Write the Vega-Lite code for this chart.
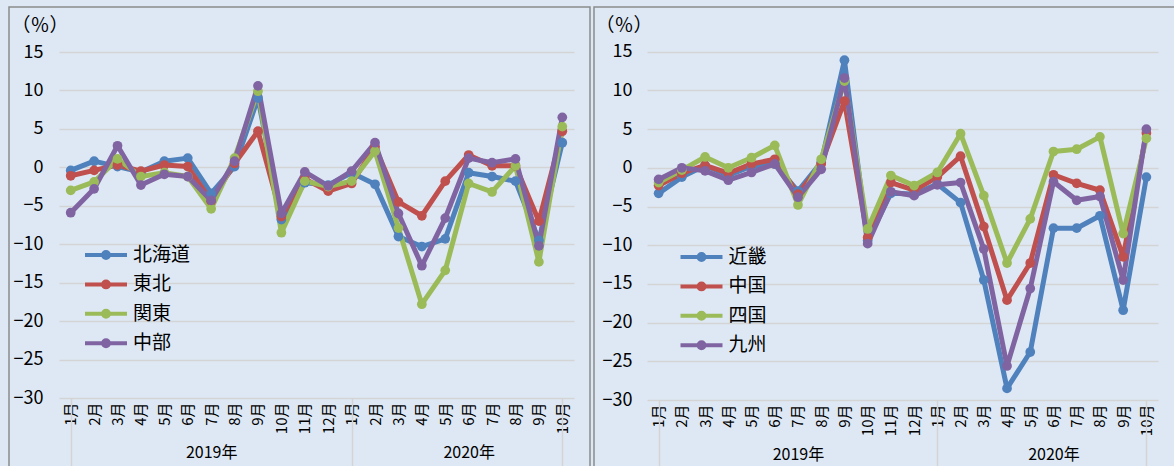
{
  "$schema": "https://vega.github.io/schema/vega-lite/v6.json",
  "background": "#DEE8F4",
  "padding": {"left": 8, "top": 6, "right": 1, "bottom": 0},
  "spacing": 2,
  "config": {
    "font": "Noto Sans CJK JP",
    "view": {"stroke": "#8C8C8C", "strokeWidth": 1.5},
    "axis": {"labelColor": "#000000", "labelFont": "Noto Sans CJK JP"},
    "legend": {"labelFont": "Noto Sans CJK JP"}
  },
  "resolve": {"scale": {"color": "independent"}, "legend": {"color": "independent"}},
  "datasets": {
    "a": [
      {"period":"2019年1月","region":"北海道","value":-0.4},{"period":"2019年2月","region":"北海道","value":0.8},{"period":"2019年3月","region":"北海道","value":0.1},{"period":"2019年4月","region":"北海道","value":-0.6},{"period":"2019年5月","region":"北海道","value":0.8},{"period":"2019年6月","region":"北海道","value":1.2},{"period":"2019年7月","region":"北海道","value":-3.4},{"period":"2019年8月","region":"北海道","value":0.1},{"period":"2019年9月","region":"北海道","value":9.0},{"period":"2019年10月","region":"北海道","value":-6.8},{"period":"2019年11月","region":"北海道","value":-2.0},{"period":"2019年12月","region":"北海道","value":-2.3},
      {"period":"2020年1月","region":"北海道","value":-0.7},{"period":"2020年2月","region":"北海道","value":-2.2},{"period":"2020年3月","region":"北海道","value":-9.0},{"period":"2020年4月","region":"北海道","value":-10.3},{"period":"2020年5月","region":"北海道","value":-9.3},{"period":"2020年6月","region":"北海道","value":-0.7},{"period":"2020年7月","region":"北海道","value":-1.2},{"period":"2020年8月","region":"北海道","value":-1.8},{"period":"2020年9月","region":"北海道","value":-9.5},{"period":"2020年10月","region":"北海道","value":3.2},
      {"period":"2019年1月","region":"東北","value":-1.1},{"period":"2019年2月","region":"東北","value":-0.4},{"period":"2019年3月","region":"東北","value":0.3},{"period":"2019年4月","region":"東北","value":-0.5},{"period":"2019年5月","region":"東北","value":0.3},{"period":"2019年6月","region":"東北","value":0.1},{"period":"2019年7月","region":"東北","value":-4.4},{"period":"2019年8月","region":"東北","value":0.5},{"period":"2019年9月","region":"東北","value":4.7},{"period":"2019年10月","region":"東北","value":-6.4},{"period":"2019年11月","region":"東北","value":-1.5},{"period":"2019年12月","region":"東北","value":-3.1},
      {"period":"2020年1月","region":"東北","value":-2.1},{"period":"2020年2月","region":"東北","value":2.7},{"period":"2020年3月","region":"東北","value":-4.5},{"period":"2020年4月","region":"東北","value":-6.3},{"period":"2020年5月","region":"東北","value":-1.8},{"period":"2020年6月","region":"東北","value":1.6},{"period":"2020年7月","region":"東北","value":0.2},{"period":"2020年8月","region":"東北","value":0.2},{"period":"2020年9月","region":"東北","value":-7.0},{"period":"2020年10月","region":"東北","value":4.7},
      {"period":"2019年1月","region":"関東","value":-3.0},{"period":"2019年2月","region":"関東","value":-1.9},{"period":"2019年3月","region":"関東","value":1.1},{"period":"2019年4月","region":"関東","value":-1.2},{"period":"2019年5月","region":"関東","value":-0.7},{"period":"2019年6月","region":"関東","value":-1.2},{"period":"2019年7月","region":"関東","value":-5.4},{"period":"2019年8月","region":"関東","value":1.2},{"period":"2019年9月","region":"関東","value":9.9},{"period":"2019年10月","region":"関東","value":-8.5},{"period":"2019年11月","region":"関東","value":-1.8},{"period":"2019年12月","region":"関東","value":-2.5},
      {"period":"2020年1月","region":"関東","value":-1.8},{"period":"2020年2月","region":"関東","value":2.1},{"period":"2020年3月","region":"関東","value":-7.9},{"period":"2020年4月","region":"関東","value":-17.8},{"period":"2020年5月","region":"関東","value":-13.4},{"period":"2020年6月","region":"関東","value":-2.1},{"period":"2020年7月","region":"関東","value":-3.2},{"period":"2020年8月","region":"関東","value":0.2},{"period":"2020年9月","region":"関東","value":-12.3},{"period":"2020年10月","region":"関東","value":5.3},
      {"period":"2019年1月","region":"中部","value":-5.9},{"period":"2019年2月","region":"中部","value":-2.8},{"period":"2019年3月","region":"中部","value":2.8},{"period":"2019年4月","region":"中部","value":-2.3},{"period":"2019年5月","region":"中部","value":-0.9},{"period":"2019年6月","region":"中部","value":-1.2},{"period":"2019年7月","region":"中部","value":-4.3},{"period":"2019年8月","region":"中部","value":0.8},{"period":"2019年9月","region":"中部","value":10.6},{"period":"2019年10月","region":"中部","value":-6.0},{"period":"2019年11月","region":"中部","value":-0.6},{"period":"2019年12月","region":"中部","value":-2.4},
      {"period":"2020年1月","region":"中部","value":-0.5},{"period":"2020年2月","region":"中部","value":3.2},{"period":"2020年3月","region":"中部","value":-6.0},{"period":"2020年4月","region":"中部","value":-12.8},{"period":"2020年5月","region":"中部","value":-6.6},{"period":"2020年6月","region":"中部","value":1.2},{"period":"2020年7月","region":"中部","value":0.6},{"period":"2020年8月","region":"中部","value":1.1},{"period":"2020年9月","region":"中部","value":-10.2},{"period":"2020年10月","region":"中部","value":6.5}
    ],
    "b": [
      {"period":"2019年1月","region":"近畿","value":-3.3},{"period":"2019年2月","region":"近畿","value":-1.2},{"period":"2019年3月","region":"近畿","value":0.3},{"period":"2019年4月","region":"近畿","value":-1.0},{"period":"2019年5月","region":"近畿","value":0.2},{"period":"2019年6月","region":"近畿","value":0.5},{"period":"2019年7月","region":"近畿","value":-3.0},{"period":"2019年8月","region":"近畿","value":0.7},{"period":"2019年9月","region":"近畿","value":13.9},{"period":"2019年10月","region":"近畿","value":-9.4},{"period":"2019年11月","region":"近畿","value":-3.3},{"period":"2019年12月","region":"近畿","value":-3.4},
      {"period":"2020年1月","region":"近畿","value":-2.1},{"period":"2020年2月","region":"近畿","value":-4.5},{"period":"2020年3月","region":"近畿","value":-14.5},{"period":"2020年4月","region":"近畿","value":-28.5},{"period":"2020年5月","region":"近畿","value":-23.8},{"period":"2020年6月","region":"近畿","value":-7.8},{"period":"2020年7月","region":"近畿","value":-7.8},{"period":"2020年8月","region":"近畿","value":-6.2},{"period":"2020年9月","region":"近畿","value":-18.4},{"period":"2020年10月","region":"近畿","value":-1.2},
      {"period":"2019年1月","region":"中国","value":-2.3},{"period":"2019年2月","region":"中国","value":-0.7},{"period":"2019年3月","region":"中国","value":0.3},{"period":"2019年4月","region":"中国","value":-0.7},{"period":"2019年5月","region":"中国","value":0.5},{"period":"2019年6月","region":"中国","value":1.1},{"period":"2019年7月","region":"中国","value":-3.4},{"period":"2019年8月","region":"中国","value":0.5},{"period":"2019年9月","region":"中国","value":8.6},{"period":"2019年10月","region":"中国","value":-9.0},{"period":"2019年11月","region":"中国","value":-1.9},{"period":"2019年12月","region":"中国","value":-2.9},
      {"period":"2020年1月","region":"中国","value":-1.2},{"period":"2020年2月","region":"中国","value":1.5},{"period":"2020年3月","region":"中国","value":-7.6},{"period":"2020年4月","region":"中国","value":-17.1},{"period":"2020年5月","region":"中国","value":-12.3},{"period":"2020年6月","region":"中国","value":-0.9},{"period":"2020年7月","region":"中国","value":-2.0},{"period":"2020年8月","region":"中国","value":-2.9},{"period":"2020年9月","region":"中国","value":-11.5},{"period":"2020年10月","region":"中国","value":4.5},
      {"period":"2019年1月","region":"四国","value":-1.9},{"period":"2019年2月","region":"四国","value":-0.3},{"period":"2019年3月","region":"四国","value":1.4},{"period":"2019年4月","region":"四国","value":0.0},{"period":"2019年5月","region":"四国","value":1.3},{"period":"2019年6月","region":"四国","value":2.9},{"period":"2019年7月","region":"四国","value":-4.8},{"period":"2019年8月","region":"四国","value":1.1},{"period":"2019年9月","region":"四国","value":11.2},{"period":"2019年10月","region":"四国","value":-7.9},{"period":"2019年11月","region":"四国","value":-1.0},{"period":"2019年12月","region":"四国","value":-2.3},
      {"period":"2020年1月","region":"四国","value":-0.6},{"period":"2020年2月","region":"四国","value":4.4},{"period":"2020年3月","region":"四国","value":-3.6},{"period":"2020年4月","region":"四国","value":-12.3},{"period":"2020年5月","region":"四国","value":-6.6},{"period":"2020年6月","region":"四国","value":2.1},{"period":"2020年7月","region":"四国","value":2.4},{"period":"2020年8月","region":"四国","value":4.0},{"period":"2020年9月","region":"四国","value":-8.5},{"period":"2020年10月","region":"四国","value":3.8},
      {"period":"2019年1月","region":"九州","value":-1.5},{"period":"2019年2月","region":"九州","value":0.0},{"period":"2019年3月","region":"九州","value":-0.4},{"period":"2019年4月","region":"九州","value":-1.6},{"period":"2019年5月","region":"九州","value":-0.6},{"period":"2019年6月","region":"九州","value":0.5},{"period":"2019年7月","region":"九州","value":-3.8},{"period":"2019年8月","region":"九州","value":-0.2},{"period":"2019年9月","region":"九州","value":11.6},{"period":"2019年10月","region":"九州","value":-9.8},{"period":"2019年11月","region":"九州","value":-3.1},{"period":"2019年12月","region":"九州","value":-3.6},
      {"period":"2020年1月","region":"九州","value":-2.2},{"period":"2020年2月","region":"九州","value":-1.9},{"period":"2020年3月","region":"九州","value":-10.5},{"period":"2020年4月","region":"九州","value":-25.6},{"period":"2020年5月","region":"九州","value":-15.6},{"period":"2020年6月","region":"九州","value":-1.8},{"period":"2020年7月","region":"九州","value":-4.2},{"period":"2020年8月","region":"九州","value":-3.7},{"period":"2020年9月","region":"九州","value":-14.5},{"period":"2020年10月","region":"九州","value":5.0}
    ]
  },
  "hconcat": [
    {
      "width": 581, "height": 460,
      "data": {"name": "a"},
      "layer": [
        {
          "mark": {"type": "line", "strokeWidth": 5, "strokeJoin": "round", "strokeCap": "round"},
          "encoding": {
            "x": {"field": "period", "type": "ordinal", "scale": {"domain": ["2019年1月","2019年2月","2019年3月","2019年4月","2019年5月","2019年6月","2019年7月","2019年8月","2019年9月","2019年10月","2019年11月","2019年12月","2020年1月","2020年2月","2020年3月","2020年4月","2020年5月","2020年6月","2020年7月","2020年8月","2020年9月","2020年10月"], "range": [50, 565], "paddingInner": 0, "paddingOuter": 0},
              "axis": {"orient": "bottom", "offset": -69, "title": null, "domain": false, "ticks": false, "grid": false, "labelAngle": 270, "labelPadding": 4, "labelFontSize": 15, "labelOverlap": false, "labelExpr": "split(datum.value,'年')[1]"}},
            "y": {"field": "value", "type": "quantitative", "scale": {"domain": [-30, 15], "range": [391, 45], "nice": false, "zero": false},
              "axis": {"values": [-30,-25,-20,-15,-10,-5,0,5,10,15], "grid": true, "gridColor": "#D4D4D4", "gridWidth": 1.5, "domain": false, "ticks": false, "tickSize": 0, "offset": -40, "labelPadding": 6, "labelFontSize": 18, "title": "（％）", "titleAngle": 0, "titleAlign": "left", "titleBaseline": "top", "titleX": -38, "titleY": 9, "titleFontSize": 19, "titleFontWeight": "normal", "titleColor": "#000000"}},
            "color": {"field": "region", "type": "nominal", "scale": {"domain": ["北海道","東北","関東","中部"], "range": ["#4F81BD","#C0504D","#9BBB59","#8064A2"]},
              "legend": {"orient": "none", "legendX": 81, "legendY": 232, "title": null, "symbolType": "M-1.5,0H1.5M0.21,0A0.21,0.21,0,1,1,-0.21,0A0.21,0.21,0,1,1,0.21,0", "symbolSize": 784, "symbolStrokeWidth": 4, "symbolOpacity": 1, "labelFontSize": 19, "labelColor": "#000000", "labelOffset": 11, "rowPadding": 2.4}}
          }
        },
        {
          "mark": {"type": "point", "filled": true, "size": 95, "opacity": 1},
          "encoding": {
            "x": {"field": "period", "type": "ordinal", "scale": {"range": [50, 565], "paddingInner": 0, "paddingOuter": 0},
              "axis": {"orient": "bottom", "offset": -69, "title": null, "domain": false, "ticks": false, "grid": false, "values": ["2019年7月","2020年6月"], "bandPosition": 0, "labelAngle": 0, "labelAlign": "center", "labelBaseline": "top", "labelPadding": 46, "labelFontSize": 16, "labelExpr": "split(datum.value,'年')[0]+'年'"}},
            "y": {"field": "value", "type": "quantitative"},
            "color": {"field": "region", "type": "nominal"}
          }
        },
        {
          "mark": {"type": "point", "opacity": 0},
          "encoding": {
            "x": {"field": "period", "type": "ordinal",
              "axis": {"orient": "bottom", "offset": -69, "title": null, "domain": false, "labels": false, "grid": false, "ticks": true, "tickSize": 69, "tickColor": "#D4D4D4", "tickWidth": 1.5, "values": ["2019年1月","2020年1月"], "bandPosition": 0}}
          }
        },
        {
          "mark": {"type": "point", "opacity": 0},
          "encoding": {
            "x": {"field": "period", "type": "ordinal",
              "axis": {"orient": "bottom", "offset": -69, "title": null, "domain": false, "labels": false, "grid": false, "ticks": true, "tickSize": 69, "tickColor": "#D4D4D4", "tickWidth": 1.5, "values": ["2020年10月"], "bandPosition": 1}}
          }
        }
      ],
      "resolve": {"axis": {"x": "independent"}}
    },
    {
      "width": 582, "height": 460,
      "data": {"name": "b"},
      "layer": [
        {
          "mark": {"type": "line", "strokeWidth": 5, "strokeJoin": "round", "strokeCap": "round"},
          "encoding": {
            "x": {"field": "period", "type": "ordinal", "scale": {"domain": ["2019年1月","2019年2月","2019年3月","2019年4月","2019年5月","2019年6月","2019年7月","2019年8月","2019年9月","2019年10月","2019年11月","2019年12月","2020年1月","2020年2月","2020年3月","2020年4月","2020年5月","2020年6月","2020年7月","2020年8月","2020年9月","2020年10月"], "range": [53, 564], "paddingInner": 0, "paddingOuter": 0},
              "axis": {"orient": "bottom", "offset": -67, "title": null, "domain": false, "ticks": false, "grid": false, "labelAngle": 270, "labelPadding": 4, "labelFontSize": 15, "labelOverlap": false, "labelExpr": "split(datum.value,'年')[1]"}},
            "y": {"field": "value", "type": "quantitative", "scale": {"domain": [-30, 15], "range": [393, 44.7], "nice": false, "zero": false},
              "axis": {"values": [-30,-25,-20,-15,-10,-5,0,5,10,15], "grid": true, "gridColor": "#D4D4D4", "gridWidth": 1.5, "domain": false, "ticks": false, "tickSize": 0, "offset": -44, "labelPadding": 6, "labelFontSize": 18, "title": "（％）", "titleAngle": 0, "titleAlign": "left", "titleBaseline": "top", "titleX": -43, "titleY": 9, "titleFontSize": 19, "titleFontWeight": "normal", "titleColor": "#000000"}},
            "color": {"field": "region", "type": "nominal", "scale": {"domain": ["近畿","中国","四国","九州"], "range": ["#4F81BD","#C0504D","#9BBB59","#8064A2"]},
              "legend": {"orient": "none", "legendX": 91.5, "legendY": 234, "title": null, "symbolType": "M-1.5,0H1.5M0.21,0A0.21,0.21,0,1,1,-0.21,0A0.21,0.21,0,1,1,0.21,0", "symbolSize": 784, "symbolStrokeWidth": 4, "symbolOpacity": 1, "labelFontSize": 19, "labelColor": "#000000", "labelOffset": 11, "rowPadding": 2.4}}
          }
        },
        {
          "mark": {"type": "point", "filled": true, "size": 95, "opacity": 1},
          "encoding": {
            "x": {"field": "period", "type": "ordinal", "scale": {"range": [53, 564], "paddingInner": 0, "paddingOuter": 0},
              "axis": {"orient": "bottom", "offset": -67, "title": null, "domain": false, "ticks": false, "grid": false, "values": ["2019年7月","2020年6月"], "bandPosition": 0, "labelAngle": 0, "labelAlign": "center", "labelBaseline": "top", "labelPadding": 46, "labelFontSize": 16, "labelExpr": "split(datum.value,'年')[0]+'年'"}},
            "y": {"field": "value", "type": "quantitative"},
            "color": {"field": "region", "type": "nominal"}
          }
        },
        {
          "mark": {"type": "point", "opacity": 0},
          "encoding": {
            "x": {"field": "period", "type": "ordinal",
              "axis": {"orient": "bottom", "offset": -67, "title": null, "domain": false, "labels": false, "grid": false, "ticks": true, "tickSize": 67, "tickColor": "#D4D4D4", "tickWidth": 1.5, "values": ["2019年1月","2020年1月"], "bandPosition": 0}}
          }
        },
        {
          "mark": {"type": "point", "opacity": 0},
          "encoding": {
            "x": {"field": "period", "type": "ordinal",
              "axis": {"orient": "bottom", "offset": -67, "title": null, "domain": false, "labels": false, "grid": false, "ticks": true, "tickSize": 67, "tickColor": "#D4D4D4", "tickWidth": 1.5, "values": ["2020年10月"], "bandPosition": 1}}
          }
        }
      ],
      "resolve": {"axis": {"x": "independent"}}
    }
  ]
}
